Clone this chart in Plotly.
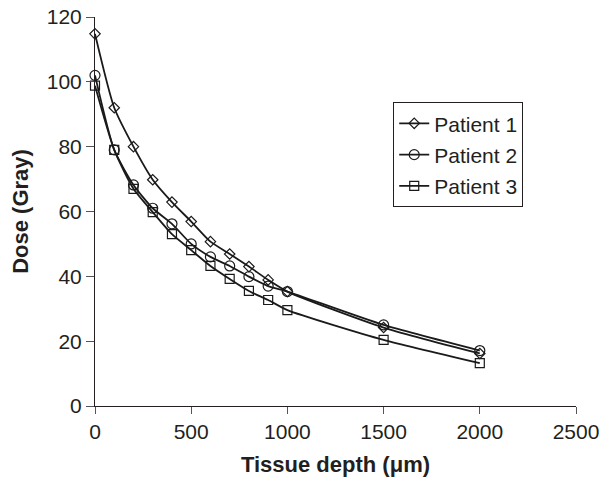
import plotly.graph_objects as go

depth = [0, 100, 200, 300, 400, 500, 600, 700, 800, 900, 1000, 1500, 2000]
patient1 = [114.8, 92, 80, 69.8, 62.9, 56.9, 50.7, 46.9, 43, 38.9, 35.3, 24.2, 16.2]
patient2 = [102, 79, 68.2, 61, 56.2, 50, 46, 43.2, 39.9, 37, 35.3, 25, 17.1]
patient3 = [98.8, 79, 67, 59.8, 53, 48.1, 43.2, 39.2, 35.5, 32.7, 29.6, 20.4, 13.2]

names = ["Patient 1", "Patient 2", "Patient 3"]
series = [patient1, patient2, patient3]
symbols = ["diamond-open", "circle-open", "square-open"]
sizes = [8, 10, 9]

fig = go.Figure()
for n, s, sym, sz in zip(names, series, symbols, sizes):
    fig.add_trace(go.Scatter(
        x=depth, y=s, name=n, mode="lines+markers", legendgroup=n,
        line=dict(color="#1a1a1a", width=1.8, shape="spline", smoothing=0.6),
        marker=dict(symbol=sym, size=sz, color="#1a1a1a",
                    line=dict(color="#1a1a1a", width=1.2)),
        cliponaxis=False,
    ))

font = "Liberation Sans, Arial, sans-serif"
fig.update_layout(
    width=603, height=479,
    margin=dict(l=95, r=27, t=17, b=73, autoexpand=False),
    paper_bgcolor="white", plot_bgcolor="white",
    font=dict(family=font, size=21, color="#231f20"),
    legend=dict(x=0.62, y=0.781, xanchor="left", yanchor="top",
                bordercolor="#231f20", borderwidth=1, bgcolor="white",
                font=dict(size=21), tracegroupgap=1, itemwidth=30),
    showlegend=True,
)
fig.update_xaxes(range=[0, 2500], tickvals=[0, 500, 1000, 1500, 2000, 2500],
                 showline=True, linecolor="#231f20", linewidth=1, automargin=False,
                 ticks="outside", ticklen=7, tickcolor="#555",
                 showgrid=False, zeroline=False,
                 title=dict(text="<b>Tissue depth (μm)</b>", font=dict(size=22), standoff=14))
fig.update_yaxes(range=[0, 120], tickvals=[0, 20, 40, 60, 80, 100, 120],
                 showline=True, linecolor="#231f20", linewidth=1, automargin=False,
                 ticks="outside", ticklen=8, tickcolor="#555",
                 showgrid=False, zeroline=False,
                 title=dict(text="<b>Dose (Gray)</b>", font=dict(size=22), standoff=12))

html = fig.to_html(full_html=True, config={"displayModeBar": False})
html = html.replace("<body>", '<body style="margin:0;padding:0;">', 1)
with open("out.html", "w", encoding="utf-8") as f:
    f.write(html)
